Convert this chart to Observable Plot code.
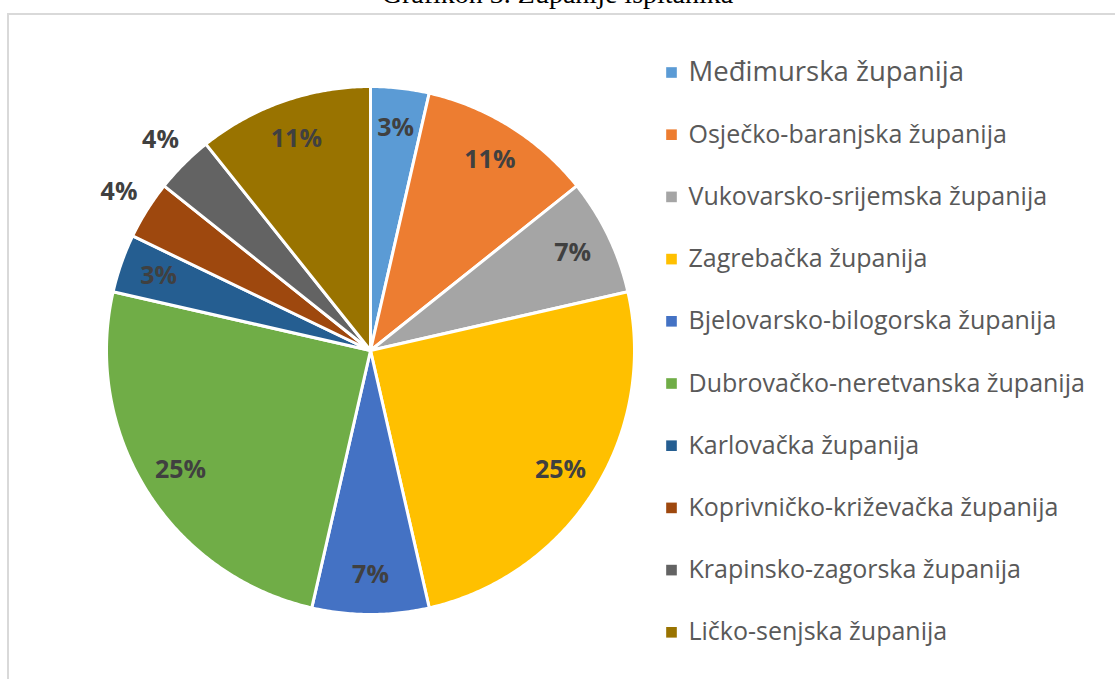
<!DOCTYPE html>
<html>
<head>
<meta charset="utf-8">
<script src="https://cdn.jsdelivr.net/npm/d3@7"></script>
<script src="https://cdn.jsdelivr.net/npm/@observablehq/plot@0.6"></script>
<style>
  html, body { margin: 0; padding: 0; background: #fff; overflow: hidden; }
  #wrap { position: relative; width: 1115px; height: 679px; overflow: hidden; }
  #title { position: absolute; left: 0; width: 1115px; top: -20px; text-align: center;
           font-family: "Liberation Serif", "Times New Roman", serif; font-size: 28px; line-height: 28px; color: #000; }
  #frame { position: absolute; left: 7px; top: 13px; width: 1200px; height: 800px;
           border-left: 2px solid #d9d9d9; border-top: 2px solid #d9d9d9; }
  #chart { position: absolute; left: 0; top: 0; }
</style>
</head>
<body>
<div id="wrap">
  <div id="frame"></div>
  <div id="chart"></div>
  <div id="title">Grafikon 3. Županije ispitanika</div>
</div>
<script>
const names = [
  "Međimurska županija",
  "Osječko-baranjska županija",
  "Vukovarsko-srijemska županija",
  "Zagrebačka županija",
  "Bjelovarsko-bilogorska županija",
  "Dubrovačko-neretvanska županija",
  "Karlovačka županija",
  "Koprivničko-križevačka županija",
  "Krapinsko-zagorska županija",
  "Ličko-senjska županija"
];
const counts = [1, 3, 2, 7, 2, 7, 1, 1, 1, 3];
const labels = ["3%", "11%", "7%", "25%", "7%", "25%", "3%", "4%", "4%", "11%"];
const colors = ["#5B9BD5", "#ED7D31", "#A5A5A5", "#FFC000", "#4472C4", "#70AD47", "#255E91", "#9E480E", "#636363", "#997300"];
const outsideLabels = ["Koprivničko-križevačka županija", "Krapinsko-zagorska županija"];

const W = 1115, H = 679;
const cx = 370, cy = 350, R = 264;

const arcs = d3.pie().sort(null).value(d => d)(counts);
const polyPts = [];
const slices = arcs.map((a, i) => {
  const name = names[i];
  polyPts.push({name, x: cx, y: cy});
  const n = Math.max(2, Math.ceil((a.endAngle - a.startAngle) / (Math.PI / 360)));
  for (let k = 0; k <= n; k++) {
    const t = a.startAngle + (a.endAngle - a.startAngle) * k / n;
    polyPts.push({name, x: cx + R * Math.sin(t), y: cy - R * Math.cos(t)});
  }
  const mid = (a.startAngle + a.endAngle) / 2;
  const lr = outsideLabels.includes(name) ? R * 1.125 : R * 0.85;
  return {name, label: labels[i], x: cx + lr * Math.sin(mid), y: cy - lr * Math.cos(mid)};
});

const legendRows = names.map((name, i) => ({name, i}));

const chart = Plot.plot({
  width: W, height: H,
  margin: 0,
  x: {domain: [0, W], range: [0, W], axis: null},
  y: {domain: [0, H], range: [0, H], axis: null},
  color: {domain: names, range: colors},
  style: {background: "transparent", overflow: "visible"},
  marks: [
    Plot.line(polyPts, {x: "x", y: "y", z: "name", fill: "name", stroke: "white", strokeWidth: 3, strokeLinejoin: "round", curve: "linear-closed"}),
    Plot.text(slices, {x: "x", y: "y", text: "label", fill: "#404040", fontWeight: "bold", fontSize: 25, fontFamily: "Open Sans, sans-serif"}),
    Plot.dot(legendRows, {x: 671, y: d => 72 + d.i * 62.2, symbol: "square", r: 6, fill: "name", stroke: null}),
    Plot.text(legendRows, {x: 688, y: d => 72 + d.i * 62.2, text: "name", textAnchor: "start", fill: "#595959",
      fontSize: d => d.i === 0 ? 27.5 : 25, fontFamily: "Open Sans, sans-serif"})
  ]
});
document.getElementById("chart").appendChild(chart);
</script>
</body>
</html>
